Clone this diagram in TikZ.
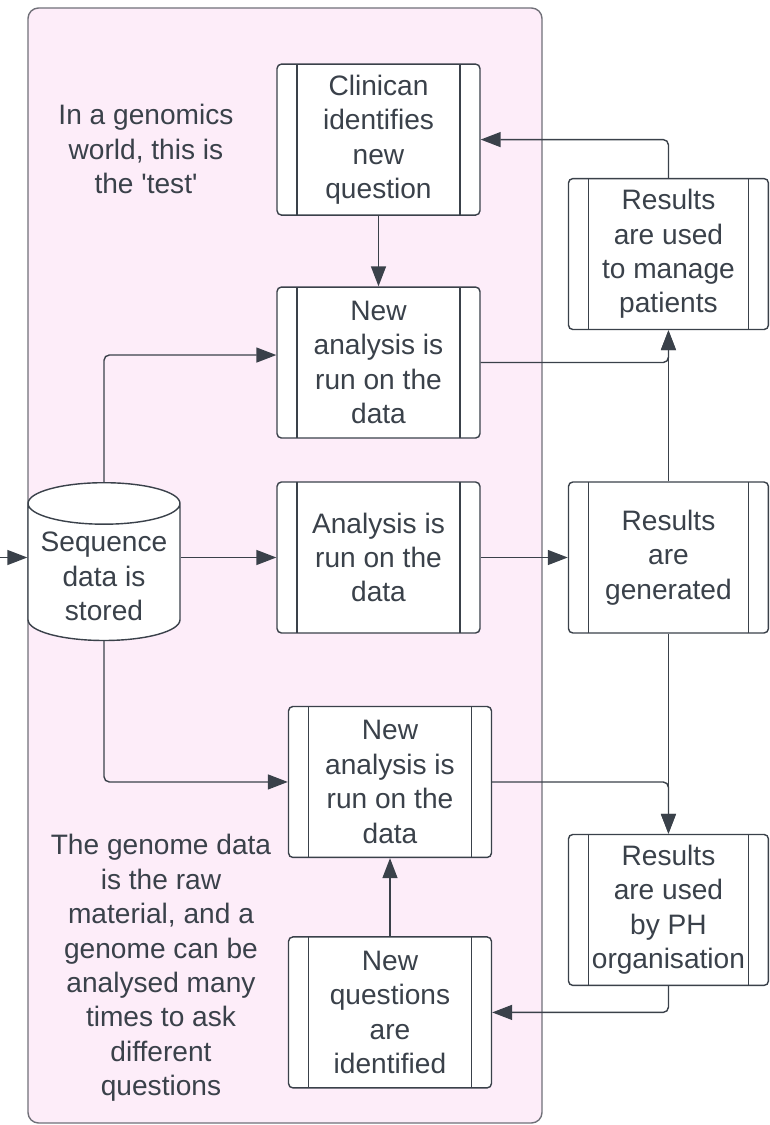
\documentclass[tikz,border=0pt]{standalone}
\usepackage{fontspec}
\setmainfont{Liberation Sans}
\usetikzlibrary{arrows.meta,positioning,shapes.geometric}

\definecolor{ink}{RGB}{58,65,74}
\definecolor{panelpink}{RGB}{253,237,249}
\definecolor{panelline}{RGB}{112,112,120}

\tikzset{
  proc/.style={draw=ink, fill=white, line width=0.8pt, rounded corners=2.5pt,
    minimum width=4.06cm, minimum height=3.02cm, align=center, text=ink,
    path picture={
      \draw[ink, line width=0.8pt]
        ([xshift=0.4cm]path picture bounding box.north west) -- ([xshift=0.4cm]path picture bounding box.south west)
        ([xshift=-0.4cm]path picture bounding box.north east) -- ([xshift=-0.4cm]path picture bounding box.south east);
    }},
  store/.style={cylinder, shape border rotate=90, aspect=0.3, draw=ink, fill=white,
    line width=0.8pt, minimum width=3.04cm, inner ysep=4pt, align=center, text=ink},
  note/.style={align=center, text=ink},
  link/.style={ink, line width=0.8pt}
}

\begin{document}
\begin{tikzpicture}[x=0.02cm,y=-0.02cm,on grid,>={Triangle[length=0.4cm,width=0.3cm]},
    font=\fontsize{16}{19.6}\selectfont]
  \useasboundingbox (0,0) rectangle (769,1125);
  % background panel
  \draw[panelline, fill=panelpink, rounded corners=6pt, line width=0.8pt] (28,8) rectangle (542,1123);

  \node[store, anchor=north] (cyl) at (104,482) {Sequence\\data is\\stored};
  \node[proc] (ana) at (378.5,557.5) {Analysis is\\run on the\\data};
  \node[proc] (new_1) [above=3.9cm of ana] {New\\analysis is\\run on the\\data};
  \node[proc] (clin) [above=4.46cm of new_1] {Clinican\\identifies\\new\\question};
  \node[proc] (new_2) [below right=4.49cm and 0.23cm of ana] {New\\analysis is\\run on the\\data};
  \node[proc] (new_q) [below=4.61cm of new_2] {New\\questions\\are\\identified};
  \node[proc, minimum width=4cm] (res_gen) [right=5.8cm of ana] {Results\\are\\generated};
  \node[proc, minimum width=4cm] (res_man) [above=6.07cm of res_gen] {Results\\are used\\to manage\\patients};
  \node[proc, minimum width=4cm] (res_ph) [below=7.05cm of res_gen] {Results\\are used\\by PH\\organisation};

  \node[note] (note_top) at (146,149) {In a genomics\\world, this is\\the \textquotesingle test\textquotesingle};
  \node[note] (note_bot) at (161,968) {The genome data\\is the raw\\material, and a\\genome can be\\analysed many\\times to ask\\different\\questions};

  \coordinate (feed) at (0,557.5);
  \path[->,link] (feed) edge (cyl.west |- feed);
  \path[->,link] (cyl.east |- ana.west) edge (ana.west);
  \path[->,link] (clin) edge (new_1);
  \path[->,link] (ana) edge (res_gen.west |- ana.east);
  \path[->,link] (new_q) edge (new_2);
  \path[->,link] (res_gen) edge (res_man);
  \path[->,link] (res_gen) edge (res_ph);
  \draw[->,link,rounded corners=3pt] (cyl.north) |- ([yshift=0.15cm]new_1.west);
  \draw[->,link,rounded corners=3pt] (cyl.south) |- (new_2.west);
  \draw[->,link,rounded corners=3pt] (new_1.east) -| (res_man.south);
  \draw[->,link,rounded corners=3pt] (res_man.north) |- (clin.east);
  \draw[->,link,rounded corners=3pt] (new_2.east) -| (res_ph.north);
  \draw[->,link,rounded corners=3pt] (res_ph.south) |- (new_q.east);
\end{tikzpicture}
\end{document}
